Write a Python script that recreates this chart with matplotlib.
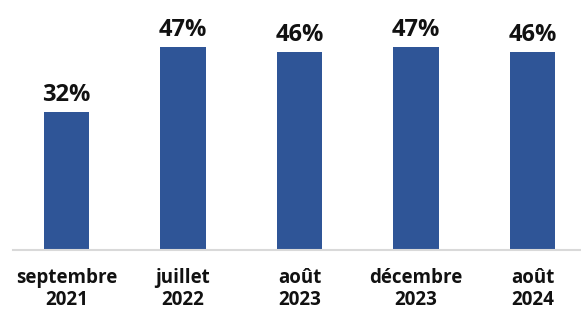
import matplotlib.pyplot as plt

plt.rcParams['font.family'] = ['Open Sans', 'DejaVu Sans']

periods = ['septembre\n2021', 'juillet\n2022', 'août\n2023', 'décembre\n2023', 'août\n2024']
shares = [32, 47, 46, 47, 46]

fig = plt.figure(figsize=(5.81, 3.09), dpi=100)
ax = fig.add_axes([13 / 581, 59 / 309, 568 / 581, 250 / 309])

x = range(len(periods))
bars = ax.bar(x, shares, width=0.39, color='#2F5597')
for b, v in zip(bars, shares):
    ax.text(b.get_x() + b.get_width() / 2, v + 1.2, f'{v}%', ha='center', va='bottom',
            fontsize=17, fontweight='bold', color='#111111')

ax.set_xlim(-0.459, 4.416)
ax.set_ylim(0, 58)
ax.set_xticks(list(x))
ax.set_xticklabels(periods, fontsize=13.5, fontweight='bold', color='#111111', linespacing=1.15)
ax.tick_params(axis='x', length=0, pad=13)
ax.set_yticks([])
for s in ['top', 'right', 'left']:
    ax.spines[s].set_visible(False)
ax.spines['bottom'].set_color('#d9d9d9')
ax.spines['bottom'].set_linewidth(1.5)

fig.savefig('out.png', dpi=100)
